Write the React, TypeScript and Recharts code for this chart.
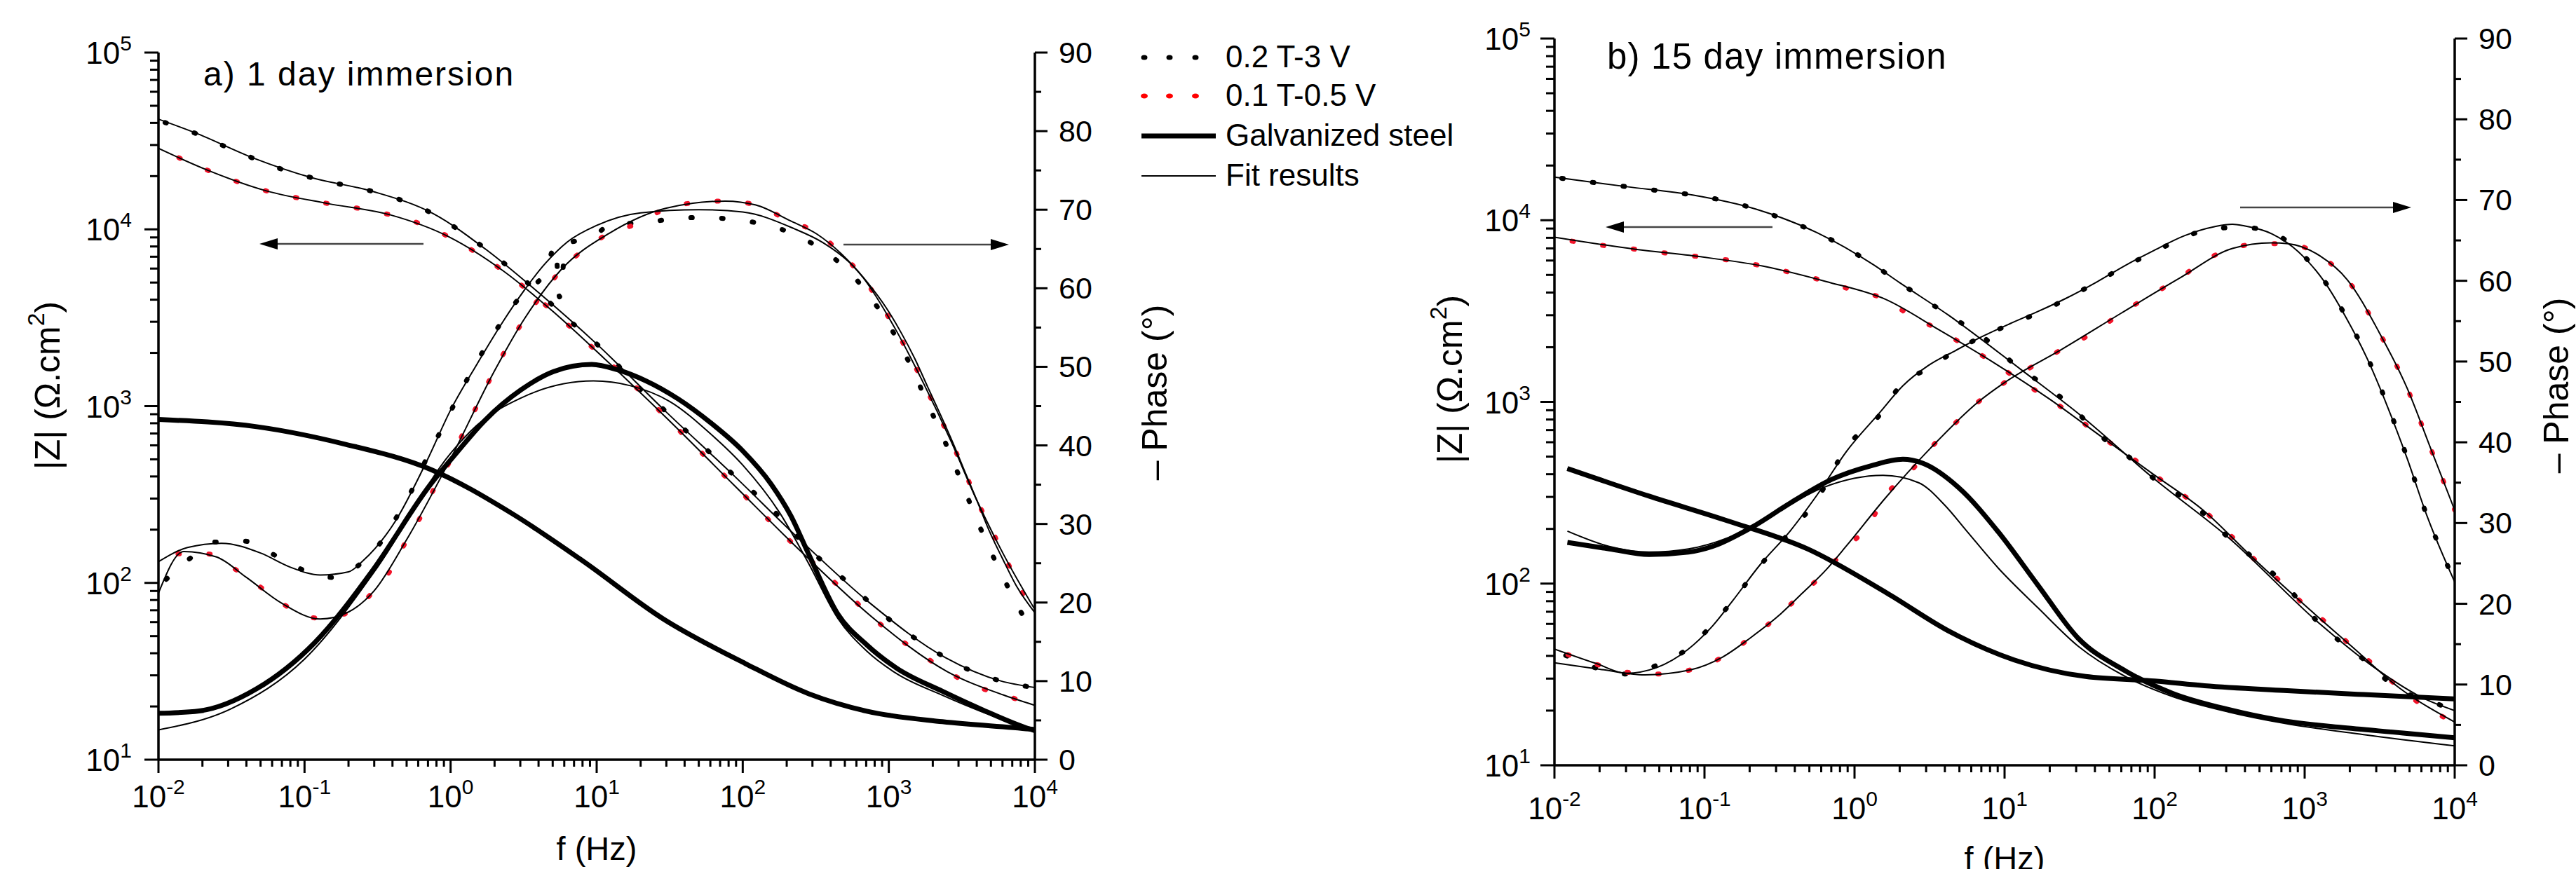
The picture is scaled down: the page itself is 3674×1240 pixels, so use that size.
import React from 'react';
import { ComposedChart, Line, XAxis, YAxis } from 'recharts';

type Pair = [number, number];

// ---------------- axis ticks / labels ----------------
const xMajorTicks = [0.01, 0.1, 1, 10, 100, 1000, 10000];
const xMajorLabels = ['-2', '-1', '0', '1', '2', '3', '4'];
const zMajorTicks = [10, 100, 1000, 10000, 100000];
const zMajorLabels = ['1', '2', '3', '4', '5'];
const minorMultipliers = [2, 3, 4, 5, 6, 7, 8, 9];
const phaseTicks = [0, 5, 10, 15, 20, 25, 30, 35, 40, 45, 50, 55, 60, 65, 70, 75, 80, 85, 90];
const phaseLabels = ['0', '10', '20', '30', '40', '50', '60', '70', '80', '90'];

const legendLabels = ['0.2 T-3 V', '0.1 T-0.5 V', 'Galvanized steel', 'Fit results'];
const titleA = 'a) 1 day immersion';
const titleB = 'b) 15 day immersion';

// ---------------- panel a (1 day) : [f (Hz), value] ----------------
const aBlackZ: Pair[] = [
  [0.0111, 40200], [0.0178, 35000], [0.0281, 29600], [0.0448, 25200], [0.0708, 21800], [0.112, 19600],
  [0.181, 17900], [0.292, 16400], [0.473, 14500], [0.757, 12250], [1.16, 9820], [1.78, 7640], [2.64, 5900],
  [3.8, 4560], [6.97, 2900], [10.1, 2230], [14.1, 1690], [19.8, 1250], [29.0, 951], [41.0, 723], [60.1, 542],
  [85.3, 412], [125, 313], [177, 238], [251, 173], [356, 131], [514, 102], [741, 77.3], [1070, 59.7],
  [1620, 46.8], [2440, 37.8], [3760, 31.5], [5830, 27.9], [9230, 25.8],
];
const aBlackZFit: Pair[] = [
  [0.01, 42000], [0.0178, 35200], [0.0448, 25300], [0.112, 19600], [0.292, 16400], [0.757, 12300],
  [1.78, 7600], [3.8, 4550], [10.1, 2230], [29, 950], [85, 412], [251, 173], [741, 77], [2440, 37.8],
  [5830, 27.9], [10000, 25.6],
];
const aRedZ: Pair[] = [
  [0.0138, 25400], [0.0217, 21600], [0.0347, 18600], [0.0548, 16500], [0.0885, 15100], [0.144, 14000],
  [0.234, 13150], [0.383, 12100], [0.621, 10760], [0.982, 9040], [1.51, 7350], [2.3, 5810], [3.41, 4490],
  [5.06, 3410], [7.33, 2590], [10.6, 1950], [15.4, 1480], [21.8, 1125], [30.8, 841], [43.8, 631],
  [62.1, 472], [88.1, 354], [125, 265], [177, 199], [258, 147], [373, 111], [538, 84.5], [762, 64.4],
  [1120, 49.7], [1690, 39.2], [2510, 31.5], [3860, 26.2], [6110, 23.2], [9660, 20.6],
];
const aRedZFit: Pair[] = [
  [0.01, 28700], [0.0217, 21600], [0.0548, 16500], [0.144, 14000], [0.383, 12100], [0.982, 9040],
  [2.3, 5810], [5.06, 3410], [10.6, 1950], [30.8, 841], [88.1, 354], [258, 147], [762, 64.4],
  [2510, 31.5], [6110, 23.2], [10000, 20.3],
];
const aBlackPh: Pair[] = [
  [0.0113, 22.95], [0.0164, 25.6], [0.0247, 27.7], [0.0391, 27.8], [0.063, 26.0], [0.0977, 24.15],
  [0.155, 23.2], [0.251, 25.2], [0.343, 28.0], [0.443, 31.4], [0.557, 34.7], [0.687, 38.4], [0.865, 42.0],
  [1.07, 45.4], [1.35, 49.0], [1.72, 52.4], [2.29, 56.0], [3.15, 59.4], [4.47, 62.1], [5.22, 65.5],
  [5.56, 58.9], [6.19, 65.6], [9.25, 66.5], [13.5, 68.4], [19.2, 68.2], [31.3, 68.8], [50.7, 69.0],
  [83.8, 68.8], [137, 68.15], [224, 66.9], [355, 64.8], [537, 62.1], [724, 59.2], [953, 56.0],
  [1210, 52.6], [1510, 49.0], [1850, 45.25], [2270, 41.7], [2750, 38.0], [3310, 34.3], [4010, 30.5],
  [4850, 27.0], [6000, 23.4], [7530, 19.7], [9660, 16.4],
];
const aBlackPhFit: Pair[] = [
  [0.01, 25.2], [0.0158, 27.0], [0.027, 27.55], [0.05, 26.3], [0.08, 24.5], [0.128, 23.5], [0.2, 23.9],
  [0.251, 25.3], [0.42, 30.4], [0.687, 38.0], [1.0, 44.5], [1.5, 50.2], [2.29, 55.8], [3.15, 59.6],
  [4.47, 63.2], [6.3, 65.9], [10, 68.0], [20, 69.6], [50, 70.0], [100, 69.7], [224, 67.6], [355, 65.8],
  [537, 63.3], [724, 60.6], [953, 57.6], [1210, 54.4], [1510, 51.0], [1850, 47.4], [2270, 43.8],
  [2750, 40.3], [3310, 36.7], [4010, 33.0], [4850, 29.2], [6000, 25.6], [7530, 22.0], [10000, 18.7],
];
const aRedPh: Pair[] = [
  [0.0136, 26.2], [0.0215, 26.2], [0.0331, 24.3], [0.0514, 21.8], [0.0776, 19.4], [0.118, 18.05],
  [0.189, 18.55], [0.293, 21.3], [0.394, 24.3], [0.499, 27.9], [0.64, 31.3], [0.789, 34.9], [1.01, 38.3],
  [1.25, 42.0], [1.57, 45.6], [1.95, 49.2], [2.44, 52.5], [3.21, 56.1], [4.18, 59.1], [5.82, 62.5],
  [8.32, 65.0], [12.2, 67.0], [18.9, 68.2], [30.2, 70.2], [47.5, 70.9], [76.4, 71.1], [123, 70.6],
  [211, 68.5], [322, 67.1], [472, 64.4], [670, 61.3], [863, 58.2], [1110, 54.8], [1390, 51.4],
  [1740, 47.8], [2170, 44.1], [2670, 40.5], [3270, 36.9], [3960, 33.2], [4940, 29.65], [6110, 26.1],
  [7670, 22.4], [9660, 18.6],
];
const aRedPhFit: Pair[] = [
  [0.01, 21.2], [0.0149, 26.5], [0.025, 25.8], [0.04, 23.2], [0.07, 19.9], [0.128, 17.9], [0.2, 18.8],
  [0.3, 21.5], [0.5, 28.0], [1.0, 38.3], [2.0, 49.5], [3.2, 56.1], [5.8, 62.5], [12.2, 67.0], [30, 70.2],
  [76, 71.1], [123, 70.6], [211, 68.6], [322, 66.9], [472, 64.4], [670, 61.3], [1110, 54.8], [1740, 47.8],
  [2670, 40.5], [3960, 33.2], [6110, 26.1], [10000, 19.1],
];
const aGalvZ: Pair[] = [
  [0.01, 840], [0.047, 765], [0.185, 612], [0.733, 438], [2.65, 246], [7.94, 134], [28.6, 62.5],
  [104, 35.0], [283, 23.6], [708, 18.8], [2330, 16.4], [9230, 14.9], [10000, 14.8],
];
const aGalvZFit: Pair[] = [
  [0.01, 840], [0.047, 765], [0.185, 612], [0.733, 438], [2.65, 246], [7.94, 134], [28.6, 62.5],
  [104, 35.0], [283, 23.6], [708, 18.8], [2330, 16.4], [10000, 14.8],
];
const aGalvPh: Pair[] = [
  [0.01, 5.9], [0.019, 6.2], [0.0468, 9.0], [0.1175, 14.9], [0.293, 24.1], [0.733, 35.1], [1.07, 38.8],
  [1.72, 43.2], [3.05, 47.1], [5.06, 49.4], [9.25, 50.3], [14.0, 49.6], [21.8, 48.2],
  [36.2, 45.9], [60.1, 42.9], [100, 39.3], [156, 35.1], [214, 31.0], [282, 26.2], [449, 18.5],
  [708, 14.6], [1120, 11.7], [2330, 8.7], [4440, 6.3], [9230, 3.9], [10000, 3.7],
];
const aGalvPhFit: Pair[] = [
  [0.01, 3.8], [0.0316, 6.5], [0.1, 12.8], [0.316, 24.5], [1.0, 39.0], [1.5, 42.5], [3.0, 46.0],
  [9.5, 48.2], [17, 47.6], [31.6, 45.6], [60, 41.5], [100, 37.5], [178, 31.5], [282, 25.0], [447, 18.0],
  [708, 13.8], [1120, 11.0], [2330, 8.2], [4470, 6.0], [10000, 3.7],
];

// ---------------- panel b (15 days) ----------------
const bBlackZ: Pair[] = [
  [0.0112, 17000], [0.0186, 16100], [0.0303, 15300], [0.0493, 14550], [0.0834, 13770], [0.136, 12800],
  [0.221, 11500], [0.347, 10050], [0.564, 8530], [0.875, 7060], [1.34, 5680], [2.0, 4530], [4.21, 3010],
  [7.11, 2290], [13.1, 1490], [20.0, 1190], [30.7, 869], [45.3, 634], [67.8, 496], [97.5, 382],
  [146, 307], [210, 245], [311, 179], [448, 140], [686, 105], [1260, 60.1], [1880, 45.3], [2780, 35.5],
  [4010, 26.7], [6530, 22.9], [9420, 20.4],
];
const bBlackZFit: Pair[] = [
  [0.01, 17260], [0.0303, 15300], [0.0834, 13770], [0.221, 11500], [0.564, 8530], [1.34, 5680],
  [2.0, 4530], [4.21, 3010], [13.1, 1490], [30.7, 869], [97.5, 382], [311, 179], [1260, 60.1],
  [2780, 35.5], [6530, 22.9], [10000, 20.0],
];
const bRedZ: Pair[] = [
  [0.0131, 7670], [0.0213, 7260], [0.0347, 6920], [0.0564, 6580], [0.0918, 6310], [0.15, 6010],
  [0.243, 5600], [0.396, 5100], [0.646, 4600], [1.01, 4080], [1.61, 3670], [2.32, 3010], [3.64, 2500],
  [5.57, 2020], [8.53, 1640], [12.8, 1300], [20.0, 1035], [30.7, 809], [45.3, 634], [67.8, 506],
  [97.5, 401], [146, 318], [210, 254], [311, 189], [458, 137], [686, 103], [989, 76.7], [1420, 60.1],
  [2050, 45.3], [2960, 35.0], [4270, 26.7], [6370, 20.9], [9640, 17.5],
];
const bRedZFit: Pair[] = [
  [0.01, 8070], [0.0347, 6920], [0.0918, 6310], [0.243, 5600], [0.646, 4600], [1.61, 3670],
  [3.64, 2500], [8.53, 1640], [20, 1035], [45.3, 634], [97.5, 401], [210, 254], [458, 137], [989, 76.7],
  [2050, 45.3], [4270, 26.7], [10000, 17.3],
];
const bBlackPh: Pair[] = [
  [0.0119, 13.6], [0.0193, 12.0], [0.0303, 11.3], [0.0482, 12.4], [0.0766, 14.4], [0.11, 17.2],
  [0.153, 20.3], [0.234, 24.7], [0.372, 28.9], [0.564, 33.0], [0.895, 39.5], [1.46, 43.3], [2.1, 47.4],
  [3.11, 49.1], [4.75, 51.4], [7.11, 53.1], [10.9, 54.6], [16.7, 56.0], [25.5, 57.7], [41.6, 59.9],
  [63.7, 61.8], [97.5, 63.5], [159, 65.4], [250, 66.5], [396, 66.6], [607, 65.95], [908, 63.75],
  [1340, 60.1], [1880, 55.6], [2620, 50.5], [3550, 44.7], [4820, 38.1], [6530, 30.9], [8340, 26.1],
  [10000, 22.7],
];
const bBlackPhFit: Pair[] = [
  [0.01, 14.4], [0.019, 12.6], [0.03, 11.4], [0.048, 12.1], [0.077, 14.3], [0.11, 17.0], [0.153, 20.3],
  [0.234, 24.8], [0.372, 29.0], [0.564, 33.5], [0.895, 39.0], [1.46, 43.6], [2.1, 47.0], [3.1, 49.5],
  [4.75, 51.4], [7.1, 53.1], [10.9, 54.7], [16.7, 56.2], [25.5, 57.8], [41.6, 59.9], [63.7, 61.9],
  [97.5, 63.7], [159, 65.6], [250, 66.7], [330, 67.0], [396, 66.8], [607, 65.8], [908, 63.6],
  [1340, 60.0], [1880, 55.5], [2620, 50.3], [3550, 44.5], [4820, 38.0], [6530, 30.9], [10000, 22.7],
];
const bRedPh: Pair[] = [
  [0.0123, 13.7], [0.0198, 12.4], [0.0314, 11.5], [0.0499, 11.3], [0.0834, 11.9], [0.132, 13.4],
  [0.203, 15.8], [0.311, 18.5], [0.448, 21.3], [0.646, 24.0], [0.895, 27.1], [1.22, 29.5], [1.59, 33.3],
  [2.29, 36.1], [3.22, 39.3], [4.65, 42.3], [6.68, 45.0], [10.0, 47.4], [15.7, 49.5], [24.0, 51.5],
  [39.2, 53.6], [60.0, 56.0], [91.8, 58.1], [146, 60.3], [215, 62.5], [330, 64.0], [506, 64.6],
  [775, 64.6], [1260, 63.1], [1930, 60.1], [3140, 53.6], [4820, 46.7], [6930, 39.2], [10000, 31.6],
];
const bRedPhFit: Pair[] = [
  [0.01, 12.7], [0.02, 11.9], [0.04, 11.2], [0.08, 11.8], [0.132, 13.4], [0.203, 15.8], [0.311, 18.5],
  [0.448, 21.3], [0.646, 24.2], [0.895, 27.3], [1.59, 33.0], [3.22, 39.3], [6.68, 45.0], [10, 47.4],
  [24, 51.5], [60, 56.0], [146, 60.3], [330, 64.0], [600, 64.7], [775, 64.6], [1260, 63.1],
  [1930, 60.1], [3140, 53.6], [4820, 46.7], [6930, 39.2], [10000, 31.6],
];
const bGalvZ: Pair[] = [
  [0.0122, 430], [0.0427, 303], [0.144, 221], [0.488, 155], [1.65, 88.5], [4.37, 54.1], [11.6, 38.0],
  [34.7, 30.8], [100, 29.1], [215, 27.4], [728, 25.8], [2470, 24.5], [10000, 23.2],
];
const bGalvZFit: Pair[] = [
  [0.0122, 430], [0.0427, 303], [0.144, 221], [0.488, 155], [1.65, 88.5], [4.37, 54.1], [11.6, 38.0],
  [34.7, 30.8], [100, 29.1], [215, 27.4], [728, 25.8], [2470, 24.5], [10000, 23.2],
];
const bGalvPh: Pair[] = [
  [0.0122, 27.6], [0.0232, 26.8], [0.0427, 26.1], [0.0783, 26.4], [0.113, 27.1], [0.208, 29.5],
  [0.382, 32.6], [0.703, 35.4], [1.29, 37.1], [2.1, 37.9], [2.85, 37.4], [4.93, 34.4], [9.08, 28.9],
  [16.7, 22.3], [30.7, 15.8], [63.7, 11.7], [132, 8.9], [311, 6.9], [728, 5.5], [1710, 4.7],
  [4530, 4.0], [10000, 3.4],
];
const bGalvPhFit: Pair[] = [
  [0.0122, 29.0], [0.0232, 27.1], [0.0427, 26.4], [0.0783, 26.8], [0.144, 28.2], [0.3, 31.3],
  [0.62, 34.4], [1.55, 35.9], [2.67, 35.0], [4.0, 32.2], [5.6, 29.0], [9.0, 24.5], [16.7, 19.5],
  [30.7, 14.8], [63.7, 11.0], [132, 8.5], [311, 6.6], [728, 5.2], [2470, 3.8], [10000, 2.4],
];

// ---------------- helpers ----------------
const FONT = "'Liberation Sans', Arial, Helvetica, sans-serif";
const RED = '#f2142a';
const toPts = (arr: Pair[]) => arr.map(([f, v]) => ({ f, v }));
const majorIndex = (v: number, majors: number[]) => majors.findIndex((m) => Math.abs(v / m - 1) < 1e-6);

const xTicks = [
  ...xMajorTicks,
  ...xMajorTicks.slice(0, -1).flatMap((d) => minorMultipliers.map((m) => Number((d * m).toPrecision(4)))),
].sort((a, b) => a - b);
const zTicks = [
  ...zMajorTicks,
  ...zMajorTicks.slice(0, -1).flatMap((d) => minorMultipliers.map((m) => d * m)),
].sort((a, b) => a - b);

function XTick(props: any) {
  const { x, y, payload, labelDy } = props;
  const i = majorIndex(payload.value, xMajorTicks);
  const major = i >= 0;
  return (
    <g>
      <line x1={x} x2={x} y1={y} y2={y + (major ? 19 : 10)} stroke="#000" strokeWidth={3} />
      {major && (
        <text x={x} y={y + labelDy} textAnchor="middle" fontFamily={FONT} fontSize={44} fill="#000">
          10<tspan dy={-19} fontSize={30}>{xMajorLabels[i]}</tspan>
        </text>
      )}
    </g>
  );
}

function ZTick(props: any) {
  const { x, y, payload, labelGap } = props;
  const i = majorIndex(payload.value, zMajorTicks);
  const major = i >= 0;
  return (
    <g>
      <line x1={x - (major ? 20 : 12)} x2={x} y1={y} y2={y} stroke="#000" strokeWidth={3} />
      {major && (
        <text x={x - labelGap} y={y + 16} textAnchor="end" fontFamily={FONT} fontSize={44} fill="#000">
          10<tspan dy={-19} fontSize={30}>{zMajorLabels[i]}</tspan>
        </text>
      )}
    </g>
  );
}

function PhTick(props: any) {
  const { x, y, payload } = props;
  const label = String(payload.value);
  const major = phaseLabels.includes(label);
  return (
    <g>
      <line x1={x} x2={x + (major ? 18 : 9)} y1={y} y2={y} stroke="#000" strokeWidth={3} />
      {major && (
        <text x={x + 34} y={y + 15} textAnchor="start" fontFamily={FONT} fontSize={43} fill="#000">
          {label}
        </text>
      )}
    </g>
  );
}

type SeriesSet = {
  blackZ: Pair[]; blackZFit: Pair[]; redZ: Pair[]; redZFit: Pair[];
  blackPh: Pair[]; blackPhFit: Pair[]; redPh: Pair[]; redPhFit: Pair[];
  galvZ: Pair[]; galvZFit: Pair[]; galvPh: Pair[]; galvPhFit: Pair[];
};

type PanelCfg = {
  left: number; width: number; top: number; plotH: number;
  yLeftW: number; yRightW: number; xLabelDy: number; zLabelGap: number;
};

function Panel({ cfg, s }: { cfg: PanelCfg; s: SeriesSet }) {
  const H = 1240;
  const xAxisH = H - cfg.top - cfg.plotH;
  const dotted = (key: string, data: Pair[], color: string, axis: string) => (
    <Line key={key} data={toPts(data)} dataKey="v" yAxisId={axis} type="monotone" stroke={color}
      strokeWidth={7} strokeDasharray="2 42" strokeLinecap="round" dot={false} activeDot={false}
      isAnimationActive={false} legendType="none" />
  );
  const solid = (key: string, data: Pair[], w: number, axis: string) => (
    <Line key={key} data={toPts(data)} dataKey="v" yAxisId={axis} type="monotone" stroke="#000"
      strokeWidth={w} dot={false} activeDot={false} isAnimationActive={false} legendType="none" />
  );
  return (
    <div style={{ position: 'absolute', left: cfg.left, top: 0, width: cfg.width, height: H }}>
      <ComposedChart width={cfg.width} height={H} margin={{ top: cfg.top, right: 0, bottom: 0, left: 0 }}>
        <XAxis dataKey="f" type="number" scale="log" domain={[0.01, 10000]} allowDataOverflow
          ticks={xTicks} interval={0} height={xAxisH} tickLine={false} tickSize={0} tickMargin={0}
          axisLine={{ stroke: '#000', strokeWidth: 3.5 }}
          tick={(p: any) => <XTick {...p} labelDy={cfg.xLabelDy} />} />
        <YAxis yAxisId="z" orientation="left" type="number" scale="log" domain={[10, 100000]} allowDataOverflow
          ticks={zTicks} interval={0} width={cfg.yLeftW} tickLine={false} tickSize={0} tickMargin={0}
          axisLine={{ stroke: '#000', strokeWidth: 3.5 }}
          tick={(p: any) => <ZTick {...p} labelGap={cfg.zLabelGap} />} />
        <YAxis yAxisId="p" orientation="right" type="number" domain={[0, 90]} allowDataOverflow
          ticks={phaseTicks} interval={0} width={cfg.yRightW} tickLine={false} tickSize={0} tickMargin={0}
          axisLine={{ stroke: '#000', strokeWidth: 3.5 }}
          tick={(p: any) => <PhTick {...p} />} />
        {dotted('bz', s.blackZ, '#000', 'z')}
        {dotted('rz', s.redZ, RED, 'z')}
        {dotted('bp', s.blackPh, '#000', 'p')}
        {dotted('rp', s.redPh, RED, 'p')}
        {solid('gz', s.galvZ, 7, 'z')}
        {solid('gp', s.galvPh, 7, 'p')}
        {solid('bzf', s.blackZFit, 2, 'z')}
        {solid('rzf', s.redZFit, 2, 'z')}
        {solid('bpf', s.blackPhFit, 2, 'p')}
        {solid('rpf', s.redPhFit, 2, 'p')}
        {solid('gzf', s.galvZFit, 2, 'z')}
        {solid('gpf', s.galvPhFit, 2, 'p')}
      </ComposedChart>
    </div>
  );
}

const panelA: PanelCfg = { left: 0, width: 1700, top: 75, plotH: 1009, yLeftW: 226, yRightW: 224, xLabelDy: 68, zLabelGap: 38 };
const panelB: PanelCfg = { left: 1900, width: 1774, top: 55, plotH: 1037, yLeftW: 317, yRightW: 173, xLabelDy: 77, zLabelGap: 34 };

const setA: SeriesSet = {
  blackZ: aBlackZ, blackZFit: aBlackZFit, redZ: aRedZ, redZFit: aRedZFit,
  blackPh: aBlackPh, blackPhFit: aBlackPhFit, redPh: aRedPh, redPhFit: aRedPhFit,
  galvZ: aGalvZ, galvZFit: aGalvZFit, galvPh: aGalvPh, galvPhFit: aGalvPhFit,
};
const setB: SeriesSet = {
  blackZ: bBlackZ, blackZFit: bBlackZFit, redZ: bRedZ, redZFit: bRedZFit,
  blackPh: bBlackPh, blackPhFit: bBlackPhFit, redPh: bRedPh, redPhFit: bRedPhFit,
  galvZ: bGalvZ, galvZFit: bGalvZFit, galvPh: bGalvPh, galvPhFit: bGalvPhFit,
};

function Arrow({ x1, x2, y }: { x1: number; x2: number; y: number }) {
  const dir = x2 > x1 ? 1 : -1;
  return (
    <g>
      <line x1={x1} x2={x2 - dir * 20} y1={y} y2={y} stroke="#444" strokeWidth={2.5} />
      <polygon points={`${x2},${y} ${x2 - dir * 26},${y - 8} ${x2 - dir * 26},${y + 8}`} fill="#000" />
    </g>
  );
}

function ZLabel({ cx, cy }: { cx: number; cy: number }) {
  return (
    <text transform={`translate(${cx},${cy}) rotate(-90)`} textAnchor="middle" dominantBaseline="central"
      fontFamily={FONT} fontSize={50} fill="#000">
      |Z| (Ω.cm<tspan dy={-17} fontSize={34}>2</tspan><tspan dy={17}>)</tspan>
    </text>
  );
}
function PhLabel({ cx, cy }: { cx: number; cy: number }) {
  return (
    <text transform={`translate(${cx},${cy}) rotate(-90)`} textAnchor="middle" dominantBaseline="central"
      fontFamily={FONT} fontSize={50} fill="#000">
      – Phase (°)
    </text>
  );
}

function Overlay() {
  const rows = [82, 137, 194, 251];
  return (
    <svg width={3674} height={1240} style={{ position: 'absolute', left: 0, top: 0, pointerEvents: 'none' }}>
      <text x={290} y={122} fontFamily={FONT} fontSize={48} letterSpacing={2} fill="#000">{titleA}</text>
      <text x={2292} y={98} fontFamily={FONT} fontSize={51} letterSpacing={1.2} fill="#000">{titleB}</text>
      <Arrow x1={604} x2={370} y={348} />
      <Arrow x1={1203} x2={1439} y={349} />
      <Arrow x1={2528} x2={2290} y={324} />
      <Arrow x1={3195} x2={3439} y={296} />
      <ZLabel cx={68} cy={550} />
      <PhLabel cx={1647} cy={560} />
      <ZLabel cx={2068} cy={541} />
      <PhLabel cx={3646} cy={550} />
      <text x={851} y={1227} textAnchor="middle" fontFamily={FONT} fontSize={47} fill="#000">f (Hz)</text>
      <text x={2859} y={1241} textAnchor="middle" fontFamily={FONT} fontSize={47} fill="#000">f (Hz)</text>
      {/* legend */}
      {[1632, 1668, 1705].map((x) => (
        <ellipse key={'lb' + x} cx={x} cy={rows[0]} rx={4.5} ry={3.5} fill="#000" />
      ))}
      {[1632, 1668, 1705].map((x) => (
        <ellipse key={'lr' + x} cx={x} cy={rows[1]} rx={5} ry={3.5} fill="#ff0000" />
      ))}
      <line x1={1628} x2={1734} y1={rows[2]} y2={rows[2]} stroke="#000" strokeWidth={7} />
      <line x1={1628} x2={1734} y1={rows[3]} y2={rows[3]} stroke="#000" strokeWidth={2} />
      {legendLabels.map((t, i) => (
        <text key={t} x={1748} y={rows[i] + 14} fontFamily={FONT} fontSize={44} fill="#000">{t}</text>
      ))}
    </svg>
  );
}

export default function App() {
  return (
    <div style={{ position: 'absolute', left: 0, top: 0, width: 3674, height: 1240, background: '#fff', overflow: 'hidden' }}>
      <Panel cfg={panelA} s={setA} />
      <Panel cfg={panelB} s={setB} />
      <Overlay />
    </div>
  );
}
